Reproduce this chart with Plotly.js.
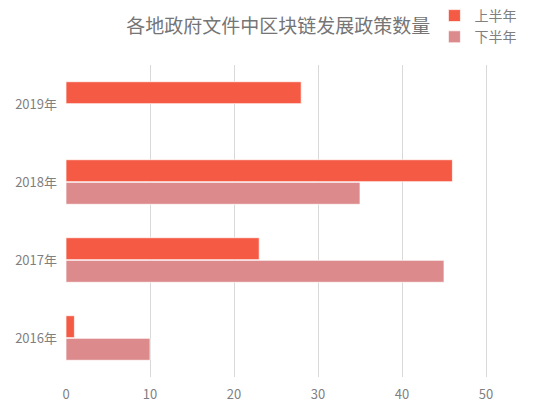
<!DOCTYPE html>
<html>
<head>
<meta charset="utf-8">
<script src="https://cdn.plot.ly/plotly-3.0.1.min.js"></script>
<style>
  body { margin: 0; background: #fff; }
  #chart { width: 535px; height: 410px; }
</style>
</head>
<body>
<div id="chart"></div>
<script>
//data
var years = ["2016年", "2017年", "2018年", "2019年"];
var firstHalf = [1, 23, 46, 28];
var secondHalf = [10, 45, 35, null];
var seriesNames = ["上半年", "下半年"];
var xTicks = [0, 10, 20, 30, 40, 50];

var font = "'Noto Sans CJK SC', 'Microsoft YaHei', sans-serif";

//second half first so it sits below the first half in each group
var data = [
  {
    type: "bar",
    orientation: "h",
    name: seriesNames[1],
    y: years,
    x: secondHalf,
    marker: { color: "#dc8a8c", line: { color: "rgba(255,255,255,0.7)", width: 1 } },
    hoverinfo: "x+name",
  },
  {
    type: "bar",
    orientation: "h",
    name: seriesNames[0],
    y: years,
    x: firstHalf,
    marker: { color: "#f55a45", line: { color: "rgba(255,255,255,0.7)", width: 1 } },
    hoverinfo: "x+name",
  },
];

var layout = {
  width: 535,
  height: 410,
  margin: { l: 66, r: 7, t: 65, b: 33, autoexpand: false },
  paper_bgcolor: "#fff",
  plot_bgcolor: "#fff",
  font: { family: font, color: "#7f7f7f", size: 13 },
  title: {
    text: "各地政府文件中区块链发展政策数量",
    font: { family: font, size: 19, color: "#757575" },
    xref: "container",
    x: 0.52,
    xanchor: "center",
    yref: "container",
    y: 0.935,
    yanchor: "middle",
  },
  barmode: "group",
  bargap: 0.42,
  bargroupgap: 0.03,
  xaxis: {
    range: [0, 55],
    tickvals: xTicks,
    showgrid: true,
    gridcolor: "#d9d9d9",
    zeroline: true,
    zerolinecolor: "rgba(0,0,0,0)",
    showline: false,
    ticks: "",
    ticklabelstandoff: 8,
    tickfont: { size: 13, color: "#7f7f7f" },
    fixedrange: true,
  },
  yaxis: {
    type: "category",
    showgrid: false,
    showline: false,
    ticks: "",
    ticklabelstandoff: 8,
    tickfont: { size: 13, color: "#7f7f7f" },
    fixedrange: true,
  },
  legend: {
    traceorder: "reversed",
    orientation: "v",
    xref: "container",
    yref: "container",
    x: 0.812,
    xanchor: "left",
    y: 1.01,
    yanchor: "top",
    font: { size: 14, color: "#7f7f7f" },
    itemwidth: 30,
    tracegroupgap: 0,
    bgcolor: "rgba(0,0,0,0)",
  },
  showlegend: true,
};

Plotly.newPlot("chart", data, layout, { displayModeBar: false, staticPlot: true });
</script>
</body>
</html>
